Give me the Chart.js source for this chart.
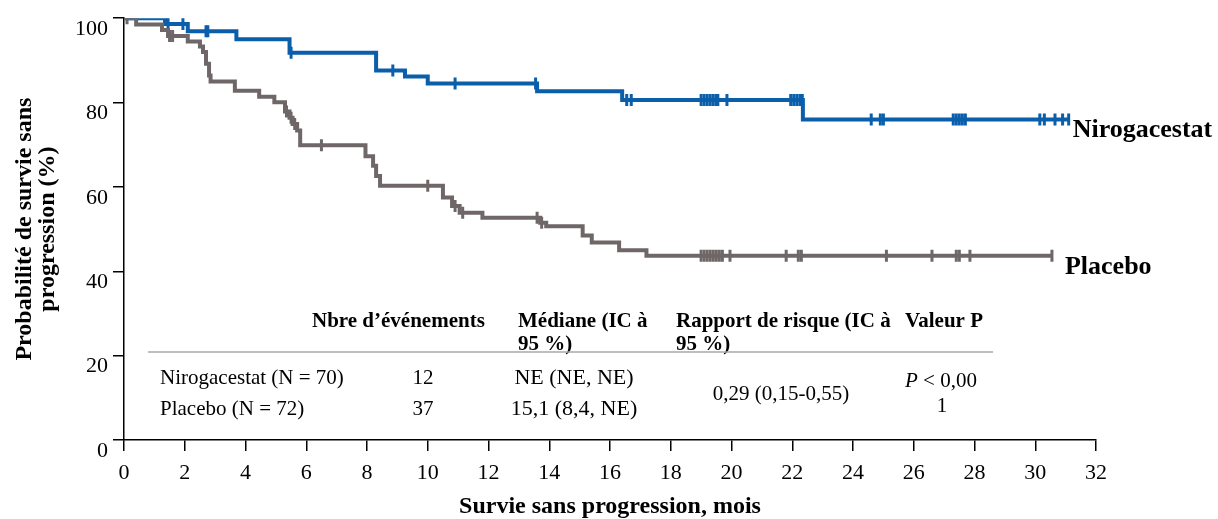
<!DOCTYPE html>
<html>
<head>
<meta charset="utf-8">
<script src="https://cdn.jsdelivr.net/npm/chart.js@4.4.0/dist/chart.umd.min.js"></script>
<style>
html, body { margin: 0; padding: 0; background: #fff; }
#wrap { width: 1218px; height: 519px; }
</style>
</head>
<body>
<div id="wrap"><canvas id="pfsChart" width="1218" height="519"></canvas></div>
<script>
// Kaplan-Meier steps (month, % progression-free)
const niroTimes = [0, 1.35, 2.1, 3.7, 5.45, 8.3, 9.25, 10.0, 13.6, 16.4, 22.35, 31.1];
const niroSurv  = [100, 98.6, 96.9, 95.0, 91.8, 87.6, 86.2, 84.5, 82.7, 80.6, 76.0, 76.0];
const niroCensored = [1.45, 1.94, 2.7, 2.76, 5.5, 8.85, 10.9, 13.55, 16.55, 16.7,
  19.0, 19.1, 19.2, 19.3, 19.4, 19.5, 19.55, 19.85,
  21.95, 22.05, 22.15, 22.25, 22.33,
  24.6, 24.9, 25.0, 27.3, 27.4, 27.5, 27.6, 27.7,
  30.15, 30.3, 30.65, 30.9, 31.1];

const placTimes = [0, 0.4, 1.25, 1.45, 2.1, 2.5, 2.6, 2.7, 2.8, 2.85, 3.65, 4.45, 4.95,
  5.3, 5.45, 5.55, 5.7, 5.8, 7.95, 8.2, 8.3, 8.43, 10.5, 10.8, 11.05, 11.8,
  13.7, 13.9, 15.1, 15.4, 16.3, 17.2, 30.55];
const placSurv = [100, 98.5, 97.2, 95.8, 94.5, 93.3, 92.0, 89.2, 86.4, 85.0, 82.8, 81.4, 80.1,
  77.9, 76.4, 74.9, 73.4, 69.9, 67.3, 65.0, 62.6, 60.3, 57.5, 55.5, 53.9, 52.7,
  51.5, 50.7, 48.5, 46.8, 45.0, 43.7, 43.7];
const placCensored = [0.1, 1.5, 1.6, 5.35, 5.5, 5.62, 6.5, 10.0, 10.9, 11.15, 13.6, 13.75,
  19.0, 19.1, 19.2, 19.3, 19.4, 19.5, 19.6, 19.7, 19.95,
  21.8, 22.2, 22.3, 25.1, 26.6, 27.4, 27.5, 27.85, 30.55];

const xTicks = [0, 32, 2];
const yTicks = [0, 100, 20];

const tableHeader = ['Nbre d’événements', 'Médiane (IC à', 'Rapport de risque (IC à', 'Valeur P'];
const tableHeader2 = ['', '95 %)', '95 %)', ''];
const tableGroups = ['Nirogacestat (N = 70)', 'Placebo (N = 72)'];
const tableEvents = ['12', '37'];
const tableMedian = ['NE (NE, NE)', '15,1 (8,4, NE)'];
const hazardRatio = '0,29 (0,15-0,55)';
const pValue = ['P', ' < 0,00', '1'];

const BLUE = '#0b5eaa';
const GREY = '#6f6767';
const SERIF = '"Liberation Serif", "Times New Roman", serif';

function survAt(times, surv, t) {
  let v = surv[0];
  for (let i = 0; i < times.length; i++) {
    if (times[i] <= t) v = surv[i];
  }
  return v;
}

const kmLine = (times, surv) => times.map((t, i) => ({x: t, y: surv[i]}));
const censorPts = (cens, times, surv) => cens.map(t => ({x: t, y: survAt(times, surv, t)}));

const overlayText = {
  id: 'overlayText',
  afterDraw(chart) {
    const ctx = chart.ctx;
    const xs = chart.scales.x, ys = chart.scales.y;
    ctx.save();
    ctx.fillStyle = '#000';
    ctx.textBaseline = 'middle';
    ctx.textAlign = 'left';

    ctx.font = 'bold 26px ' + SERIF;
    ctx.fillText('Nirogacestat', xs.getPixelForValue(niroTimes[niroTimes.length - 1]) + 4,
      ys.getPixelForValue(niroSurv[niroSurv.length - 1]) + 11);
    ctx.fillText('Placebo', xs.getPixelForValue(placTimes[placTimes.length - 1]) + 13,
      ys.getPixelForValue(placSurv[placSurv.length - 1]) + 12);

    // table
    const colX = [312, 518, 676, 905];
    ctx.font = 'bold 21px ' + SERIF;
    tableHeader.forEach((s, i) => ctx.fillText(s, colX[i], 322));
    tableHeader2.forEach((s, i) => ctx.fillText(s, colX[i], 345));

    ctx.strokeStyle = '#a8a8a8';
    ctx.lineWidth = 1.5;
    ctx.beginPath();
    ctx.moveTo(148, 352);
    ctx.lineTo(993, 352);
    ctx.stroke();

    ctx.font = '21px ' + SERIF;
    const rowY = [378, 409];
    tableGroups.forEach((s, i) => {
      ctx.textAlign = 'left';
      ctx.fillText(s, 160, rowY[i]);
      ctx.textAlign = 'center';
      ctx.fillText(tableEvents[i], 423, rowY[i]);
      ctx.font = '22px ' + SERIF;
      ctx.fillText(tableMedian[i], 574, rowY[i]);
      ctx.font = '21px ' + SERIF;
    });
    ctx.fillText(hazardRatio, 781, 394);

    ctx.textAlign = 'left';
    ctx.font = 'italic 21px ' + SERIF;
    const pw = ctx.measureText(pValue[0]).width;
    ctx.fillText(pValue[0], 905, 381);
    ctx.font = '21px ' + SERIF;
    ctx.fillText(pValue[1], 905 + pw, 381);
    ctx.textAlign = 'center';
    ctx.fillText(pValue[2], 942, 406);
    ctx.restore();
  }
};

new Chart(document.getElementById('pfsChart'), {
  type: 'scatter',
  data: {
    datasets: [
      {
        label: 'Placebo',
        data: kmLine(placTimes, placSurv),
        showLine: true,
        stepped: 'before',
        borderColor: GREY,
        borderWidth: 4,
        pointRadius: 0,
        fill: false
      },
      {
        label: 'Placebo censurés',
        data: censorPts(placCensored, placTimes, placSurv),
        showLine: false,
        pointStyle: 'line',
        rotation: 90,
        pointRadius: 6,
        borderColor: GREY,
        pointBorderWidth: 3
      },
      {
        label: 'Nirogacestat',
        data: kmLine(niroTimes, niroSurv),
        showLine: true,
        stepped: 'before',
        borderColor: BLUE,
        borderWidth: 4,
        pointRadius: 0,
        fill: false
      },
      {
        label: 'Nirogacestat censurés',
        data: censorPts(niroCensored, niroTimes, niroSurv),
        showLine: false,
        pointStyle: 'line',
        rotation: 90,
        pointRadius: 6,
        borderColor: BLUE,
        pointBorderWidth: 3
      }
    ]
  },
  options: {
    responsive: false,
    animation: false,
    layout: { padding: { top: 13, right: 122, left: 0, bottom: 0 } },
    plugins: {
      legend: { display: false },
      tooltip: { enabled: false }
    },
    scales: {
      x: {
        type: 'linear',
        min: xTicks[0],
        max: xTicks[1],
        afterFit: s => { s.height = 79; },
        ticks: {
          stepSize: xTicks[2],
          color: '#000',
          font: { family: SERIF, size: 22 },
          padding: 9,
          maxRotation: 0
        },
        grid: { drawOnChartArea: false, color: '#000', lineWidth: 1.5, tickLength: 11 },
        border: { color: '#000', width: 1.5 },
        title: {
          display: true,
          text: 'Survie sans progression, mois',
          color: '#000',
          font: { family: SERIF, size: 24, weight: 'bold', lineHeight: 1.0 },
          padding: { top: 0, bottom: 0 }
        }
      },
      y: {
        min: yTicks[0],
        max: yTicks[1],
        afterFit: s => { s.width = 124; },
        ticks: {
          stepSize: yTicks[2],
          color: '#000',
          font: { family: SERIF, size: 22 },
          padding: 5,
          labelOffset: 11
        },
        grid: { drawOnChartArea: false, color: '#000', lineWidth: 1.5, tickLength: 11 },
        border: { color: '#000', width: 1.5 },
        title: {
          display: true,
          text: ['Probabilité de survie sans', 'progression (%)'],
          color: '#000',
          font: { family: SERIF, size: 24, weight: 'bold', lineHeight: 0.96 },
          padding: { top: 13, bottom: 0 }
        }
      }
    }
  },
  plugins: [overlayText]
});
</script>
</body>
</html>
